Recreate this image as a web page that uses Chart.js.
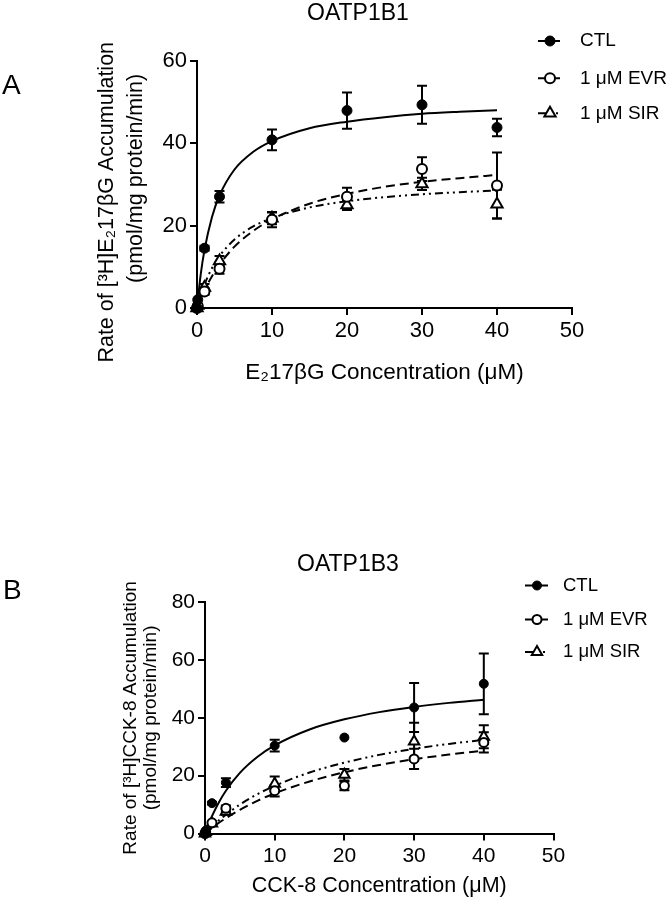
<!DOCTYPE html>
<html>
<head>
<meta charset="utf-8">
<script src="https://cdn.jsdelivr.net/npm/chart.js@4.4.1/dist/chart.umd.min.js"></script>
<style>
html, body { margin: 0; padding: 0; background: #fff; }
#wrap { position: relative; width: 671px; height: 900px; overflow: hidden; background: #fff;
        font-family: 'Liberation Sans', Arial, Helvetica, sans-serif; color: #000; }
.cv { position: absolute; left: 0; width: 671px; height: 450px; }
.lbl { position: absolute; white-space: nowrap; }
</style>
</head>
<body>
<div id="wrap">
  <div class="cv" style="top:0px"><canvas id="chartA" width="671" height="450"></canvas></div>
  <div class="cv" style="top:450px"><canvas id="chartB" width="671" height="450"></canvas></div>
  <div class="lbl" style="left:2px; top:71px; font-size:28px; line-height:28px;">A</div>
  <div class="lbl" style="left:307px; top:1px; font-size:23px; line-height:23px;">OATP1B1</div>
  <div class="lbl" style="left:3px; top:576px; font-size:28px; line-height:28px;">B</div>
  <div class="lbl" style="left:297px; top:552px; font-size:23px; line-height:23px;">OATP1B3</div>
</div>
<script>
const FF = "'Liberation Sans', Arial, Helvetica, sans-serif";

// ---------- shared categories / ticks ----------
const concentrations = [0, 0.1, 1, 3, 10, 20, 30, 40];
const fitConcentrations = [0, 0.5, 1, 2, 3, 5, 7.5, 10, 15, 20, 25, 30, 35, 40];
const seriesLabels = ['CTL', '1 μM EVR', '1 μM SIR'];
const xTickValues = [0, 10, 20, 30, 40, 50];
const yTickValuesA = [0, 20, 40, 60];
const yTickValuesB = [0, 20, 40, 60, 80];

// ---------- Panel A: OATP1B1 ----------
const ctlA    = [0, 2.0, 14.5, 27.0, 40.8, 47.9, 49.3, 43.8];
const ctlAErr = [0, 0, 0.6, 1.4, 2.5, 4.4, 4.6, 2.1];
const evrA    = [0, 0.5, 4.0, 9.5, 21.4, 27.0, 33.7, 29.7];
const evrAErr = [0, 0, 0.8, 1.2, 1.8, 2.2, 2.9, 8.0];
const sirA    = [0, 0.6, 5.0, 11.4, 21.8, 25.0, 30.1, 25.2];
const sirAErr = [0, 0, 0.8, 1.2, 1.5, 1.2, 1.5, 3.5];
const ctlAFit = [0, 8.2, 14.1, 22.1, 27.3, 33.6, 37.9, 40.5, 43.6, 45.2, 46.3, 47.1, 47.6, 48.0];
const evrAFit = [0, 2.3, 4.3, 7.7, 10.5, 14.9, 18.7, 21.5, 25.3, 27.7, 29.4, 30.6, 31.5, 32.3];
const sirAFit = [0, 3.1, 5.7, 9.7, 12.6, 16.6, 19.8, 21.8, 24.4, 25.9, 26.9, 27.6, 28.1, 28.5];

// ---------- Panel B: OATP1B3 ----------
const ctlB    = [0, 1.0, 10.5, 17.6, 30.4, 33.2, 43.6, 51.8];
const ctlBErr = [0, 0, 0.5, 1.5, 2.0, 0, 8.5, 10.5];
const evrB    = [0, 0.5, 3.7, 8.7, 14.8, 16.5, 25.8, 31.5];
const evrBErr = [0, 0, 0.5, 1.0, 2.0, 1.5, 3.5, 3.5];
const sirB    = [0, 0.5, 3.5, 7.5, 17.2, 20.3, 31.8, 33.5];
const sirBErr = [0, 0, 0.5, 1.0, 2.5, 2.0, 6.5, 4.0];
const ctlBFit = [0, 3.2, 6.0, 10.8, 14.8, 21.0, 26.5, 30.5, 36.0, 39.5, 42.0, 43.8, 45.2, 46.3];
const evrBFit = [0, 1.0, 1.9, 3.7, 5.3, 8.2, 11.3, 13.9, 18.0, 21.2, 23.7, 25.7, 27.3, 28.7];
const sirBFit = [0, 1.2, 2.4, 4.6, 6.5, 10.0, 13.6, 16.5, 21.1, 24.5, 27.2, 29.3, 31.0, 32.4];

const EVR_DASH = [9, 5];
const SIR_DASH = [8, 4, 2, 4, 2, 4];

function pts(xs, ys) { return xs.map((x, i) => ({ x: x, y: ys[i] })); }

function buildDatasets(p) {
  return [
    { label: seriesLabels[0], data: pts(concentrations, p.ctl), errorBars: p.ctlErr, showLine: false,
      pointStyle: 'circle', pointRadius: p.r, pointBackgroundColor: '#000', pointBorderColor: '#000', pointBorderWidth: 1 },
    { label: seriesLabels[1], data: pts(concentrations, p.evr), errorBars: p.evrErr, showLine: false,
      pointStyle: 'circle', pointRadius: p.r, pointBackgroundColor: '#fff', pointBorderColor: '#000', pointBorderWidth: 2 },
    { label: seriesLabels[2], data: pts(concentrations, p.sir), errorBars: p.sirErr, showLine: false,
      pointStyle: 'triangle', pointRadius: p.r + 1.5, pointBackgroundColor: '#fff', pointBorderColor: '#000', pointBorderWidth: 2 },
    { label: seriesLabels[0] + ' fit', data: pts(fitConcentrations, p.ctlFit), pointRadius: 0, borderColor: '#000',
      borderWidth: 2, cubicInterpolationMode: 'monotone', fill: false },
    { label: seriesLabels[1] + ' fit', data: pts(fitConcentrations, p.evrFit), pointRadius: 0, borderColor: '#000',
      borderWidth: 2, borderDash: EVR_DASH, cubicInterpolationMode: 'monotone', fill: false },
    { label: seriesLabels[2] + ' fit', data: pts(fitConcentrations, p.sirFit), pointRadius: 0, borderColor: '#000',
      borderWidth: 2, borderDash: SIR_DASH, cubicInterpolationMode: 'monotone', fill: false }
  ];
}

const errorBarPlugin = {
  id: 'errorBars',
  beforeDatasetsDraw(chart) {
    const ctx = chart.ctx, xs = chart.scales.x, ys = chart.scales.y;
    ctx.save();
    ctx.strokeStyle = '#000';
    ctx.lineWidth = 2;
    ctx.setLineDash([]);
    chart.data.datasets.forEach(ds => {
      if (!ds.errorBars) return;
      ds.data.forEach((p, j) => {
        const e = ds.errorBars[j];
        if (!e) return;
        const px = xs.getPixelForValue(p.x);
        const y1 = ys.getPixelForValue(p.y + e), y2 = ys.getPixelForValue(p.y - e);
        ctx.beginPath();
        ctx.moveTo(px, y1); ctx.lineTo(px, y2);
        ctx.moveTo(px - 5, y1); ctx.lineTo(px + 5, y1);
        ctx.moveTo(px - 5, y2); ctx.lineTo(px + 5, y2);
        ctx.stroke();
      });
    });
    ctx.restore();
  }
};

const keyPlugin = {
  id: 'seriesKey',
  afterDraw(chart, args, o) {
    const ctx = chart.ctx;
    const dsets = chart.data.datasets;
    const dashes = [[], EVR_DASH, SIR_DASH];
    ctx.save();
    for (let i = 0; i < 3; i++) {
      const y = o.ys[i];
      const d = dsets[i];
      ctx.strokeStyle = '#000';
      ctx.lineWidth = 2;
      ctx.setLineDash(dashes[i]);
      ctx.beginPath(); ctx.moveTo(o.x0, y); ctx.lineTo(o.x1, y); ctx.stroke();
      ctx.setLineDash([]);
      ctx.fillStyle = d.pointBackgroundColor;
      ctx.strokeStyle = '#000';
      ctx.lineWidth = d.pointBorderWidth;
      Chart.helpers.drawPoint(ctx, { pointStyle: d.pointStyle, radius: d.pointRadius, borderWidth: d.pointBorderWidth, rotation: 0 }, o.xm, y);
      ctx.fillStyle = '#000';
      ctx.font = o.fontSize + 'px ' + FF;
      ctx.textBaseline = 'middle';
      ctx.textAlign = 'left';
      ctx.fillText(d.label, o.xt, y);
    }
    ctx.restore();
  }
};

function makeChart(id, p) {
  return new Chart(document.getElementById(id), {
    type: 'line',
    data: { datasets: buildDatasets(p) },
    plugins: [errorBarPlugin, keyPlugin],
    options: {
      responsive: false,
      animation: false,
      events: [],
      clip: false,
      devicePixelRatio: 1,
      layout: { padding: { left: 0, right: p.padRight, top: p.padTop, bottom: 0 } },
      plugins: {
        legend: { display: false },
        title: { display: false },
        tooltip: { enabled: false },
        seriesKey: p.key
      },
      scales: {
        x: {
          type: 'linear', min: 0, max: 50,
          afterBuildTicks: s => { s.ticks = xTickValues.map(v => ({ value: v })); },
          afterFit: s => { s.height = p.xH; },
          grid: { display: true, drawOnChartArea: false, drawTicks: true, tickLength: 7, color: '#000', lineWidth: 2 },
          border: { display: true, color: '#000', width: 2 },
          ticks: { color: '#000', font: { family: FF, size: p.tickSize }, padding: 3, maxRotation: 0, autoSkip: false },
          title: { display: true, text: p.xTitle, color: '#000',
                   font: { family: FF, size: p.xTitleSize, lineHeight: 1.2 }, padding: { top: 0, bottom: p.xTitlePad } }
        },
        y: {
          type: 'linear', min: 0, max: p.yMax,
          afterBuildTicks: s => { s.ticks = p.yTicks.map(v => ({ value: v })); },
          afterFit: s => { s.width = p.yW; },
          grid: { display: true, drawOnChartArea: false, drawTicks: true, tickLength: 7, color: '#000', lineWidth: 2 },
          border: { display: true, color: '#000', width: 2 },
          ticks: { color: '#000', font: { family: FF, size: p.tickSize }, padding: 3, autoSkip: false },
          title: { display: true, text: p.yTitle, color: '#000',
                   font: { family: FF, size: p.yTitleSize, lineHeight: p.yTitleLH }, padding: { top: p.yTitlePad, bottom: 0 } }
        }
      }
    }
  });
}

makeChart('chartA', {
  ctl: ctlA, ctlErr: ctlAErr, evr: evrA, evrErr: evrAErr, sir: sirA, sirErr: sirAErr,
  ctlFit: ctlAFit, evrFit: evrAFit, sirFit: sirAFit, r: 5, tickSize: 22,
  padRight: 99, padTop: 60.7, xH: 142, yW: 197, yMax: 60, yTicks: yTickValuesA,
  xTitle: 'E₂17βG Concentration (μM)', xTitleSize: 22.5, xTitlePad: 64,
  yTitle: ['Rate of [³H]E₂17βG Accumulation      ', '  (pmol/mg protein/min)'], yTitleSize: 21.5, yTitleLH: 1.36, yTitlePad: 92,
  key: { x0: 538, x1: 560, xm: 550, xt: 580, ys: [41, 78.3, 113.3], fontSize: 19 }
});

makeChart('chartB', {
  ctl: ctlB, ctlErr: ctlBErr, evr: evrB, evrErr: evrBErr, sir: sirB, sirErr: sirBErr,
  ctlFit: ctlBFit, evrFit: evrBFit, sirFit: sirBFit, r: 4.5, tickSize: 21,
  padRight: 117.5, padTop: 152.3, xH: 66.5, yW: 205, yMax: 80, yTicks: yTickValuesB,
  xTitle: 'CCK-8 Concentration (μM)', xTitleSize: 21.5, xTitlePad: 1,
  yTitle: ['Rate of [³H]CCK-8 Accumulation', '(pmol/mg protein/min)'], yTitleSize: 19, yTitleLH: 1.03, yTitlePad: 121,
  key: { x0: 525, x1: 548, xm: 537, xt: 563, ys: [135.5, 169.5, 202], fontSize: 18.5 }
});
</script>
</body>
</html>
